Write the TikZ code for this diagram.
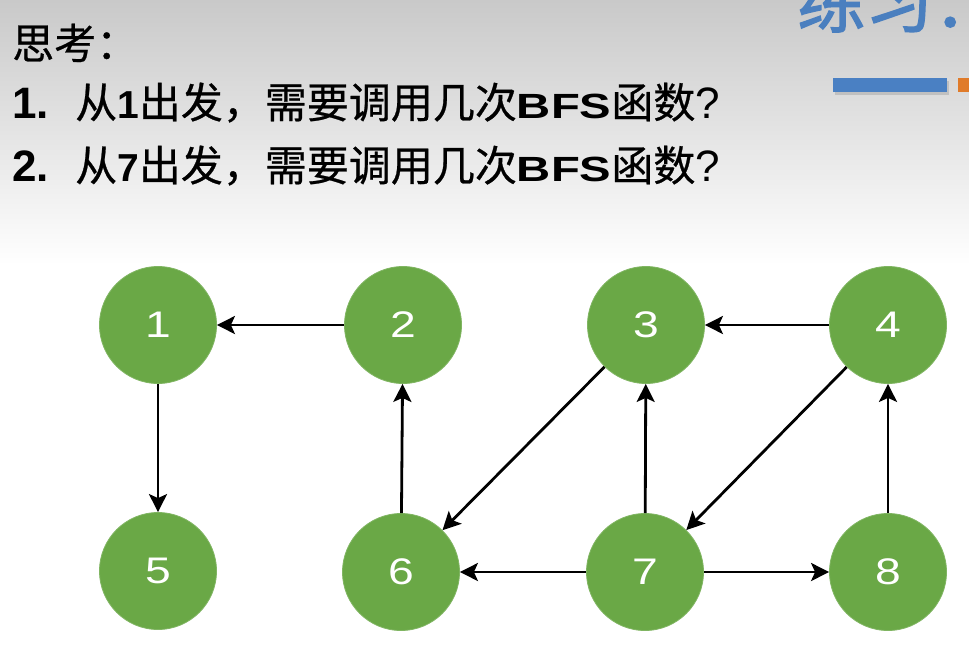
\documentclass[tikz,border=0pt]{standalone}
\usepackage{fontspec}
\usetikzlibrary{arrows.meta}
\setmainfont{Liberation Sans}
\newfontfamily\zh{Noto Sans CJK SC}[FakeBold=0.6]
\newfontfamily\zhbold{Noto Sans CJK SC}[FakeBold=2]
\newfontfamily\enbold{Liberation Sans Bold}
\newfontfamily\enwide{Liberation Sans Bold}[FakeStretch=1.35]
\newfontfamily\ennum{Liberation Sans}[FakeStretch=1.25]
\definecolor{vgreen}{HTML}{6AA846}
\definecolor{titleblue}{HTML}{4A7FBF}
\definecolor{barblue}{HTML}{4A80C3}
\definecolor{barorange}{HTML}{E07B2A}
\definecolor{topgray}{HTML}{C9C9C9}
\tikzset{
  vertex/.style={circle, fill=vgreen, draw=vgreen!85!white, line width=0.8pt,
    minimum size=117pt, inner sep=0pt, text=white,
    font=\ennum\fontsize{37}{37}\selectfont},
  edge/.style={line width=2.8pt, draw=black,
    -{Stealth[length=18pt,width=18pt,inset=4pt]}},
  qline/.style={anchor=base west, inner sep=0pt, text=black},
}
\begin{document}
\begin{tikzpicture}[x=1pt,y=-1pt]
  \useasboundingbox (0,0) rectangle (969,662);
  % slide background: grey fading to white
  \fill[white] (0,0) rectangle (969,662);
  \shade[top color=topgray, bottom color=white] (0,0) rectangle (969,265);

  % title in the top right corner and its bars
  \node[anchor=base west, inner sep=0pt, text=titleblue,
        font=\zhbold\fontsize{68}{68}\selectfont] (title) at (797,27) {练习：};
  \fill[black!35, opacity=0.5] (835,81) rectangle (949,95);
  \fill[barblue] (833,78) rectangle (947,92);
  \fill[barorange] (958,78) rectangle (971,92);

  % questions
  \node[qline, font=\zh\fontsize{42}{42}\selectfont] (q0) at (12,59) {思考：};
  \node[qline, font=\enbold\fontsize{44}{44}\selectfont] (n1) at (12,118) {1.};
  \node[qline, font=\zh\fontsize{42}{42}\selectfont] (q1) at (75,118)
    {从{\enbold\fontsize{39}{39}\selectfont 1}出发，需要调用几次{\enwide\fontsize{35}{35}\selectfont BFS}函数{\fontspec{Liberation Sans}\fontsize{44}{44}\selectfont ?}};
  \node[qline, font=\enbold\fontsize{44}{44}\selectfont] (n2) at (12,181) {2.};
  \node[qline, font=\zh\fontsize{42}{42}\selectfont] (q2) at (75,181)
    {从{\enbold\fontsize{39}{39}\selectfont 7}出发，需要调用几次{\enwide\fontsize{35}{35}\selectfont BFS}函数{\fontspec{Liberation Sans}\fontsize{44}{44}\selectfont ?}};

  % graph vertices
  \node[vertex] (v1) at (158,325) {1};
  \node[vertex] (v2) at (403,325) {2};
  \node[vertex] (v3) at (646,325) {3};
  \node[vertex] (v4) at (888,325) {4};
  \node[vertex] (v5) at (158,571) {5};
  \node[vertex] (v6) at (401,572) {6};
  \node[vertex] (v7) at (645,572) {7};
  \node[vertex] (v8) at (888,572) {8};

  % directed edges
  \draw[edge] (v2) -- (v1);
  \draw[edge] (v1) -- (v5);
  \draw[edge] (v6) -- (v2);
  \draw[edge] (v4) -- (v3);
  \draw[edge] (v3) -- (v6);
  \draw[edge] (v7) -- (v3);
  \draw[edge] (v4) -- (v7);
  \draw[edge] (v7) -- (v6);
  \draw[edge] (v7) -- (v8);
  \draw[edge] (v8) -- (v4);
\end{tikzpicture}
\end{document}
